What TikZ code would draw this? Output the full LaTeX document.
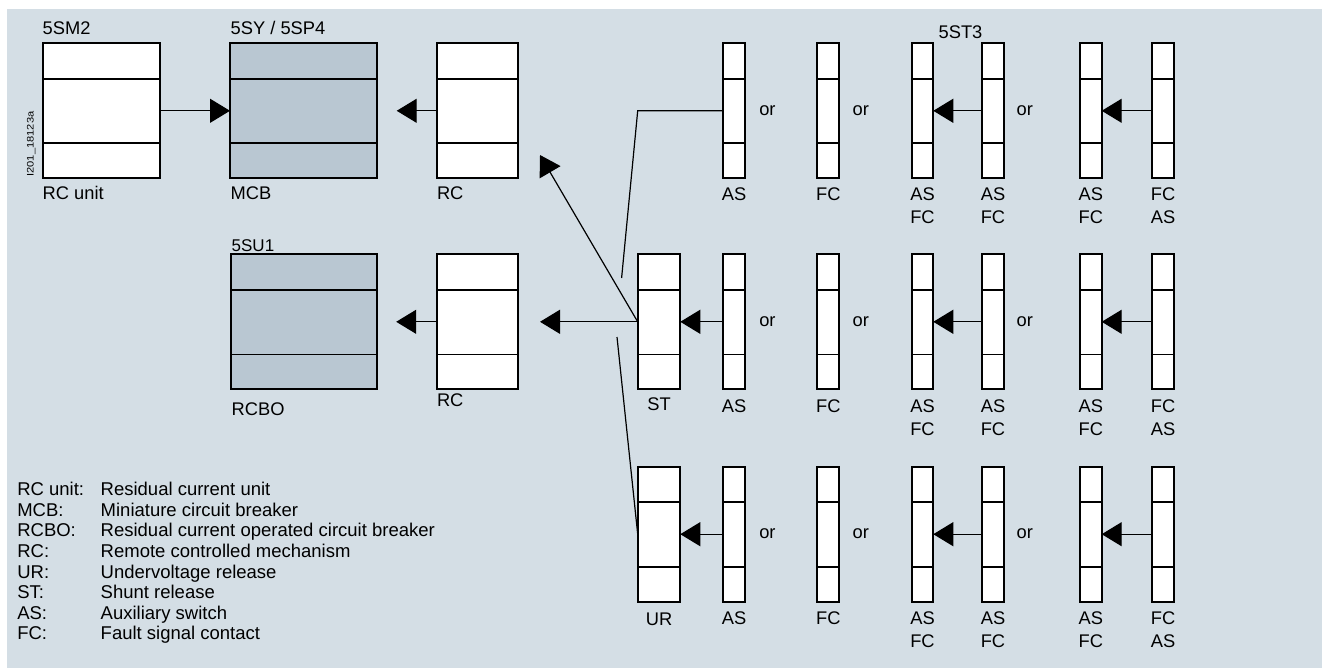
\documentclass[tikz,border=0pt]{standalone}
\usepackage{fontspec}
\setmainfont{Liberation Sans}
\usetikzlibrary{arrows.meta}
\definecolor{bgc}{HTML}{D4DEE5}
\definecolor{gfill}{HTML}{B9C7D2}
\tikzset{
  unitbox/.style={draw=black, line width=1.9pt, inner sep=0pt, outer sep=0pt, anchor=north west, minimum height=135pt},
  divline/.style={line width=1.6pt},
  conn/.style={line width=1.2pt},
  arr/.style={conn, -{Triangle[length=20pt,width=24pt]}},
  lbl/.style={inner sep=0pt, outer sep=0pt, font=\fontsize{18.3}{22}\selectfont},
  lgd/.style={lbl, anchor=base west, font=\fontsize{18.5}{22}\selectfont},
}
\newcommand\unitcell[5]{%
  \node[unitbox, fill=#5, minimum width=#4pt] (#1) at (#2,#3) {};
  \draw[divline] ([yshift=-35.5pt]#1.north west) -- ([yshift=-35.5pt]#1.north east);
  \draw[divline] ([yshift=-100pt]#1.north west) -- ([yshift=-100pt]#1.north east);
}
\begin{document}
\begin{tikzpicture}[x=1pt,y=-1pt]
\useasboundingbox (0,0) rectangle (1322,668);
\fill[bgc] (7.3,9) rectangle (1322,668);

% left part
\unitcell{sm2}{42.7}{43.3}{117.6}{white}
\unitcell{mcb}{230}{43.3}{147.3}{gfill}
\unitcell{rcA}{437}{43.3}{81.3}{white}
\unitcell{su1}{230.7}{254.3}{146}{gfill}
\unitcell{rcB}{436.7}{254.3}{81.6}{white}
\unitcell{st}{637.7}{254.3}{42.6}{white}
\unitcell{ur}{637.7}{466.7}{42.6}{white}

\node[lbl, anchor=base west] (tsm2) at (42.7,35) {5SM2};
\node[lbl, anchor=base west] (tmcb) at (230.7,35) {5SY / 5SP4};
\node[lbl, anchor=base west, font=\fontsize{17}{20}\selectfont] (tsu1) at (231.7,251.7) {5SU1};
\node[lbl, anchor=base] (tst3) at (960.5,38.3) {5ST3};

\node[lbl, anchor=base west] (lsm2) at (42.7,200) {RC unit};
\node[lbl, anchor=base west] (lmcb) at (230.7,200) {MCB};
\node[lbl, anchor=base west] (lrcA) at (437,200) {RC};
\node[lbl, anchor=base west] (lsu1) at (231.7,415) {RCBO};
\node[lbl, anchor=base west] (lrcB) at (437,406.7) {RC};
\node[lbl, anchor=base] (lst) at (st.south |- 0,410) {ST};
\node[lbl, anchor=base] (lur) at (ur.south |- 0,625) {UR};

\node[inner sep=0pt, rotate=90, anchor=base west, font=\fontsize{9.5}{10}\selectfont] (code) at (33.6,176.7) {\scalebox{1.17}[1]{I201\_18123a}};

% columns
\foreach \r/\t in {1/43.3, 2/254.3, 3/466.7} {
  \pgfmathsetmacro\cy{\t+67}
  \pgfmathsetmacro\ba{\t+157.7}
  \pgfmathsetmacro\bb{\t+180.7}
  \unitcell{as\r}{723.3}{\t}{21.7}{white}
  \unitcell{fc\r}{817.3}{\t}{22}{white}
  \unitcell{pa\r}{911.7}{\t}{21.6}{white}
  \unitcell{pb\r}{982}{\t}{22}{white}
  \unitcell{qa\r}{1080}{\t}{21.7}{white}
  \unitcell{qb\r}{1152.3}{\t}{21.7}{white}
  \draw[arr] (pb\r.west) -- (pa\r.east);
  \draw[arr] (qb\r.west) -- (qa\r.east);
  \node[lbl, anchor=west] (ora\r) at (759.3,\cy) {or};
  \node[lbl, anchor=west] (orb\r) at (852.7,\cy) {or};
  \node[lbl, anchor=west] (orc\r) at (1016.7,\cy) {or};
  \node[lbl, anchor=base] (las\r) at (as\r.south |- 0,\ba) {AS};
  \node[lbl, anchor=base] (lfc\r) at (fc\r.south |- 0,\ba) {FC};
  \node[lbl, anchor=base] (lpa\r) at (pa\r.south |- 0,\ba) {AS};
  \node[lbl, anchor=base] (lpa\r b) at (pa\r.south |- 0,\bb) {FC};
  \node[lbl, anchor=base] (lpb\r) at (pb\r.south |- 0,\ba) {AS};
  \node[lbl, anchor=base] (lpb\r b) at (pb\r.south |- 0,\bb) {FC};
  \node[lbl, anchor=base] (lqa\r) at (qa\r.south |- 0,\ba) {AS};
  \node[lbl, anchor=base] (lqa\r b) at (qa\r.south |- 0,\bb) {FC};
  \node[lbl, anchor=base] (lqb\r) at (qb\r.south |- 0,\ba) {FC};
  \node[lbl, anchor=base] (lqb\r b) at (qb\r.south |- 0,\bb) {AS};
}

% connectors
\coordinate (tipA) at (396.7,110.8);
\coordinate (tipB) at (396.2,321.8);
\coordinate (tipC) at (540,321.8);
\coordinate (tipD) at (540,155);
\coordinate (bendA) at (637.7,110.8);
\coordinate (endA) at (621.6,278);
\coordinate (endB) at (617,337);
\draw[arr] (sm2.east) -- (mcb.west);
\draw[arr] (rcA.west) -- (tipA);
\draw[arr] (rcB.west) -- (tipB);
\draw[arr] (st.west) -- (tipC);
\draw[arr] (st.west) -- (tipD);
\draw[arr] (as2.west) -- (st.east);
\draw[arr] (as3.west) -- (ur.east);
\draw[conn] (as1.west) -- (bendA) -- (endA);
\draw[conn] (ur.west) -- (endB);

% legend
\foreach \i/\a/\b in {0/RC unit:/Residual current unit, 1/MCB:/Miniature circuit breaker, 2/RCBO:/Residual current operated circuit breaker, 3/RC:/Remote controlled mechanism, 4/UR:/Undervoltage release, 5/ST:/Shunt release, 6/AS:/Auxiliary switch, 7/FC:/Fault signal contact} {
  \pgfmathsetmacro\ly{495.7+20.6*\i}
  \node[lgd] (lgk\i) at (17.3,\ly) {\a};
  \node[lgd] (lgv\i) at (100.7,\ly) {\b};
}
\end{tikzpicture}
\end{document}
